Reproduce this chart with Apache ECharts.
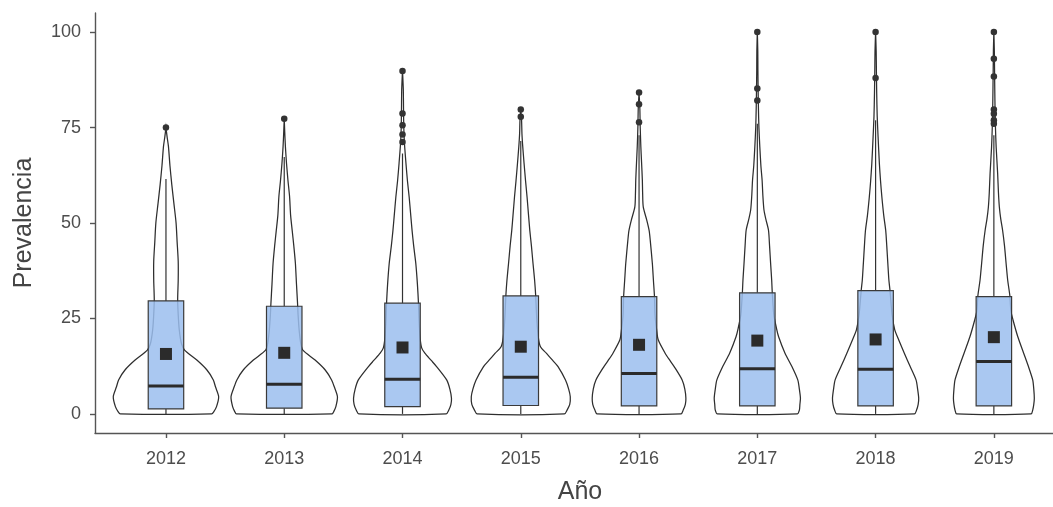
<!DOCTYPE html>
<html>
<head>
<meta charset="utf-8">
<script src="https://cdn.jsdelivr.net/npm/echarts@6/dist/echarts.min.js"></script>
<style>
  html, body { margin: 0; padding: 0; background: #ffffff; }
  #chart { width: 1053px; height: 507px; }
</style>
</head>
<body>
<div id="chart"></div>
<script>
// Prevalencia por año: violín + caja + media + atípicos
const years = ['2012', '2013', '2014', '2015', '2016', '2017', '2018', '2019'];
const yTicks = [0, 25, 50, 75, 100];

// Estadísticos de caja
const q1 = [1.3, 1.5, 1.9, 2.2, 2.1, 2.1, 2.1, 2.1];
const medians = [7.3, 7.8, 9.1, 9.6, 10.6, 11.8, 11.7, 13.7];
const q3 = [29.6, 28.2, 29.0, 30.9, 30.7, 31.7, 32.3, 30.7];
const whiskerLow = [0, 0, 0, 0, 0, 0, 0, 0];
const whiskerHigh = [61.5, 67.3, 68.2, 71.5, 73.0, 76.0, 76.9, 73.0];
const means = [15.7, 16.0, 17.4, 17.6, 18.1, 19.2, 19.5, 20.1];

// Valores atípicos por año
const outliers = [
  [75.0],
  [77.3],
  [89.8, 78.7, 75.6, 73.2, 71.2],
  [79.7, 77.8],
  [84.2, 81.1, 76.4],
  [100, 85.2, 82.1],
  [100, 88.0],
  [100, 93.0, 88.4, 79.7, 78.6, 76.9, 76.0]
];

// Densidad relativa del violín: [prevalencia, densidad]
const violin2012 = [[0,0.86],[0.6,0.9],[1.9,0.95],[4.5,0.99],[7.1,0.93],[8.9,0.89],[11.5,0.77],[14.1,0.58],[16.7,0.35],[18.5,0.29],[22,0.25],[26,0.23],[30,0.22],[35,0.23],[40,0.23],[45,0.21],[50,0.19],[55,0.15],[60,0.11],[65,0.075],[70,0.047],[72.5,0.022],[75,0]];
const violin2013 = [[0,0.9],[0.6,0.93],[1.9,0.97],[4.5,1.0],[7.1,0.94],[8.9,0.89],[11.5,0.77],[14.1,0.58],[16.7,0.35],[18.5,0.31],[22,0.28],[26,0.26],[29,0.25],[34,0.23],[39.4,0.21],[44,0.18],[48,0.15],[52,0.12],[57,0.1],[61,0.071],[65.6,0.043],[70,0.022],[74,0.009],[77.3,0]];
const violin2014 = [[0,0.82],[1,0.87],[2.5,0.91],[4.1,0.92],[6.5,0.89],[8.9,0.83],[12.4,0.64],[14,0.54],[15.9,0.42],[17.3,0.36],[20,0.33],[25,0.31],[29,0.3],[34,0.28],[39.4,0.25],[44,0.21],[48,0.18],[52,0.155],[56.8,0.125],[61,0.093],[65.6,0.065],[70.8,0.037],[75,0.024],[80,0.019],[85,0.015],[90,0]];
const violin2015 = [[0,0.82],[1,0.87],[2.5,0.92],[4.5,0.93],[6.5,0.9],[8.9,0.84],[12.4,0.7],[14,0.6],[15.9,0.48],[17.6,0.37],[20,0.33],[25,0.3],[31,0.28],[35,0.26],[39.4,0.23],[44,0.2],[48,0.17],[52,0.146],[56.8,0.118],[61,0.09],[65.6,0.062],[70,0.037],[73.4,0.022],[77,0.015],[79.7,0]];
const violin2016 = [[0,0.79],[1,0.83],[2.5,0.87],[4.1,0.88],[6.5,0.86],[8.9,0.81],[12.4,0.66],[14,0.58],[15.9,0.49],[19.4,0.36],[22,0.33],[26,0.3],[30.7,0.29],[35,0.27],[39.4,0.25],[45.5,0.21],[48,0.19],[50.7,0.146],[54.2,0.079],[58,0.067],[61.2,0.062],[66,0.047],[69.9,0.034],[75,0.022],[80,0.015],[84.2,0]];
const violin2017 = [[0,0.75],[1,0.79],[2.5,0.8],[4.1,0.81],[6.5,0.79],[8.9,0.76],[12.4,0.65],[15.9,0.52],[20.2,0.4],[22.4,0.36],[26,0.31],[32,0.28],[35,0.27],[39.4,0.25],[44,0.23],[48.1,0.21],[51,0.16],[53.4,0.125],[57,0.105],[61.2,0.09],[65,0.067],[69.9,0.047],[75,0.03],[80,0.021],[85,0.015],[90,0.011],[95,0.009],[100,0]];
const violin2018 = [[0,0.73],[1,0.77],[2.5,0.8],[4.1,0.81],[6.5,0.79],[8.9,0.76],[12.4,0.65],[15.9,0.54],[20.2,0.41],[22,0.36],[26,0.31],[32.4,0.27],[35,0.25],[39.4,0.23],[44,0.21],[48.1,0.19],[52,0.153],[56.8,0.118],[61,0.093],[65.6,0.071],[72.5,0.047],[78,0.03],[84,0.021],[90,0.015],[95,0.011],[100,0]];
const violin2019 = [[0,0.7],[1,0.73],[2.5,0.75],[4.1,0.76],[6.5,0.75],[8.9,0.73],[12.4,0.65],[15.9,0.56],[20.2,0.45],[24.6,0.36],[27,0.32],[31,0.3],[35,0.26],[39.4,0.23],[44,0.2],[48.1,0.164],[51,0.13],[54.2,0.103],[58,0.086],[63,0.071],[69.9,0.043],[75,0.03],[80,0.022],[85,0.017],[90,0.013],[95,0.009],[100,0]];
const violins = [violin2012, violin2013, violin2014, violin2015, violin2016, violin2017, violin2018, violin2019];

const VIOLIN_HALF = 0.45;   // media anchura máxima del violín (unidades de categoría)
const BOX_HALF = 0.15;      // media anchura de la caja

const outlierPoints = [];
outliers.forEach((vals, i) => vals.forEach(v => outlierPoints.push([i, v])));

const chart = echarts.init(document.getElementById('chart'), null, { renderer: 'canvas' });

const axisColor = '#555555';
const labelColor = '#4d4d4d';
const font = 'Liberation Sans, Arial, Helvetica, sans-serif';

chart.setOption({
  animation: false,
  backgroundColor: '#ffffff',
  grid: { left: 95, right: 0, top: 13, bottom: 74, containLabel: false, outerBoundsMode: 'none' },
  xAxis: {
    type: 'value',
    min: -0.6,
    max: 7.5,
    name: 'Año',
    nameLocation: 'middle',
    nameGap: 47,
    nameTextStyle: { fontSize: 25, color: '#444444', fontFamily: font, padding: [0, 0, 0, 12] },
    axisLine: { show: true, onZero: false, lineStyle: { color: axisColor, width: 1.4 } },
    axisTick: { show: true, length: 5, customValues: years.map((_, i) => i), lineStyle: { color: axisColor, width: 1.4 } },
    axisLabel: {
      customValues: years.map((_, i) => i),
      formatter: v => years[Math.round(v)],
      margin: 17,
      fontSize: 18,
      color: labelColor,
      fontFamily: font
    },
    splitLine: { show: false }
  },
  yAxis: {
    type: 'value',
    min: -5,
    max: 105,
    name: 'Prevalencia',
    nameLocation: 'middle',
    nameGap: 58,
    nameTextStyle: { fontSize: 25, color: '#444444', fontFamily: font },
    axisLine: { show: true, onZero: false, lineStyle: { color: axisColor, width: 1.4 } },
    axisTick: { show: true, length: 5, customValues: yTicks, lineStyle: { color: axisColor, width: 1.4 } },
    axisLabel: {
      customValues: yTicks,
      margin: 14,
      fontSize: 18,
      color: labelColor,
      fontFamily: font
    },
    splitLine: { show: false }
  },
  series: [
    {
      // Violines
      type: 'custom',
      z: 1,
      data: years.map((_, i) => [i]),
      renderItem: (params, api) => {
        const i = api.value(0);
        const prof = violins[i];
        const pts = [];
        for (let k = 0; k < prof.length; k++) {
          pts.push(api.coord([i - prof[k][1] * VIOLIN_HALF, prof[k][0]]));
        }
        for (let k = prof.length - 1; k >= 0; k--) {
          pts.push(api.coord([i + prof[k][1] * VIOLIN_HALF, prof[k][0]]));
        }
        return {
          type: 'polygon',
          shape: { points: pts, smooth: 0.25 },
          style: { fill: '#ffffff', stroke: '#2e2e2e', lineWidth: 1.25 }
        };
      }
    },
    {
      // Cajas, medianas y bigotes
      type: 'custom',
      z: 2,
      data: years.map((_, i) => [i]),
      renderItem: (params, api) => {
        const i = api.value(0);
        const tl = api.coord([i - BOX_HALF, q3[i]]);
        const br = api.coord([i + BOX_HALF, q1[i]]);
        const mL = api.coord([i - BOX_HALF, medians[i]]);
        const mR = api.coord([i + BOX_HALF, medians[i]]);
        const wTop = api.coord([i, whiskerHigh[i]]);
        const wQ3 = api.coord([i, q3[i]]);
        const wQ1 = api.coord([i, q1[i]]);
        const wLow = api.coord([i, whiskerLow[i]]);
        return {
          type: 'group',
          children: [
            { type: 'line', shape: { x1: wQ3[0], y1: wQ3[1], x2: wTop[0], y2: wTop[1] }, style: { stroke: '#333333', lineWidth: 1.2 } },
            { type: 'line', shape: { x1: wQ1[0], y1: wQ1[1], x2: wLow[0], y2: wLow[1] }, style: { stroke: '#333333', lineWidth: 1.2 } },
            { type: 'rect', shape: { x: tl[0], y: tl[1], width: br[0] - tl[0], height: br[1] - tl[1] },
              style: { fill: 'rgba(155,190,238,0.85)', stroke: '#3a3a3a', lineWidth: 1.2 } },
            { type: 'line', shape: { x1: mL[0], y1: mL[1], x2: mR[0], y2: mR[1] }, style: { stroke: '#2b2b2b', lineWidth: 3 } }
          ]
        };
      }
    },
    {
      // Medias
      type: 'scatter',
      z: 3,
      symbol: 'rect',
      symbolSize: 12,
      itemStyle: { color: '#2b2b2b', opacity: 1 },
      data: means.map((m, i) => [i, m])
    },
    {
      // Atípicos
      type: 'scatter',
      z: 3,
      symbol: 'circle',
      symbolSize: 6.5,
      itemStyle: { color: '#333333', opacity: 1 },
      data: outlierPoints
    }
  ]
});
</script>
</body>
</html>
